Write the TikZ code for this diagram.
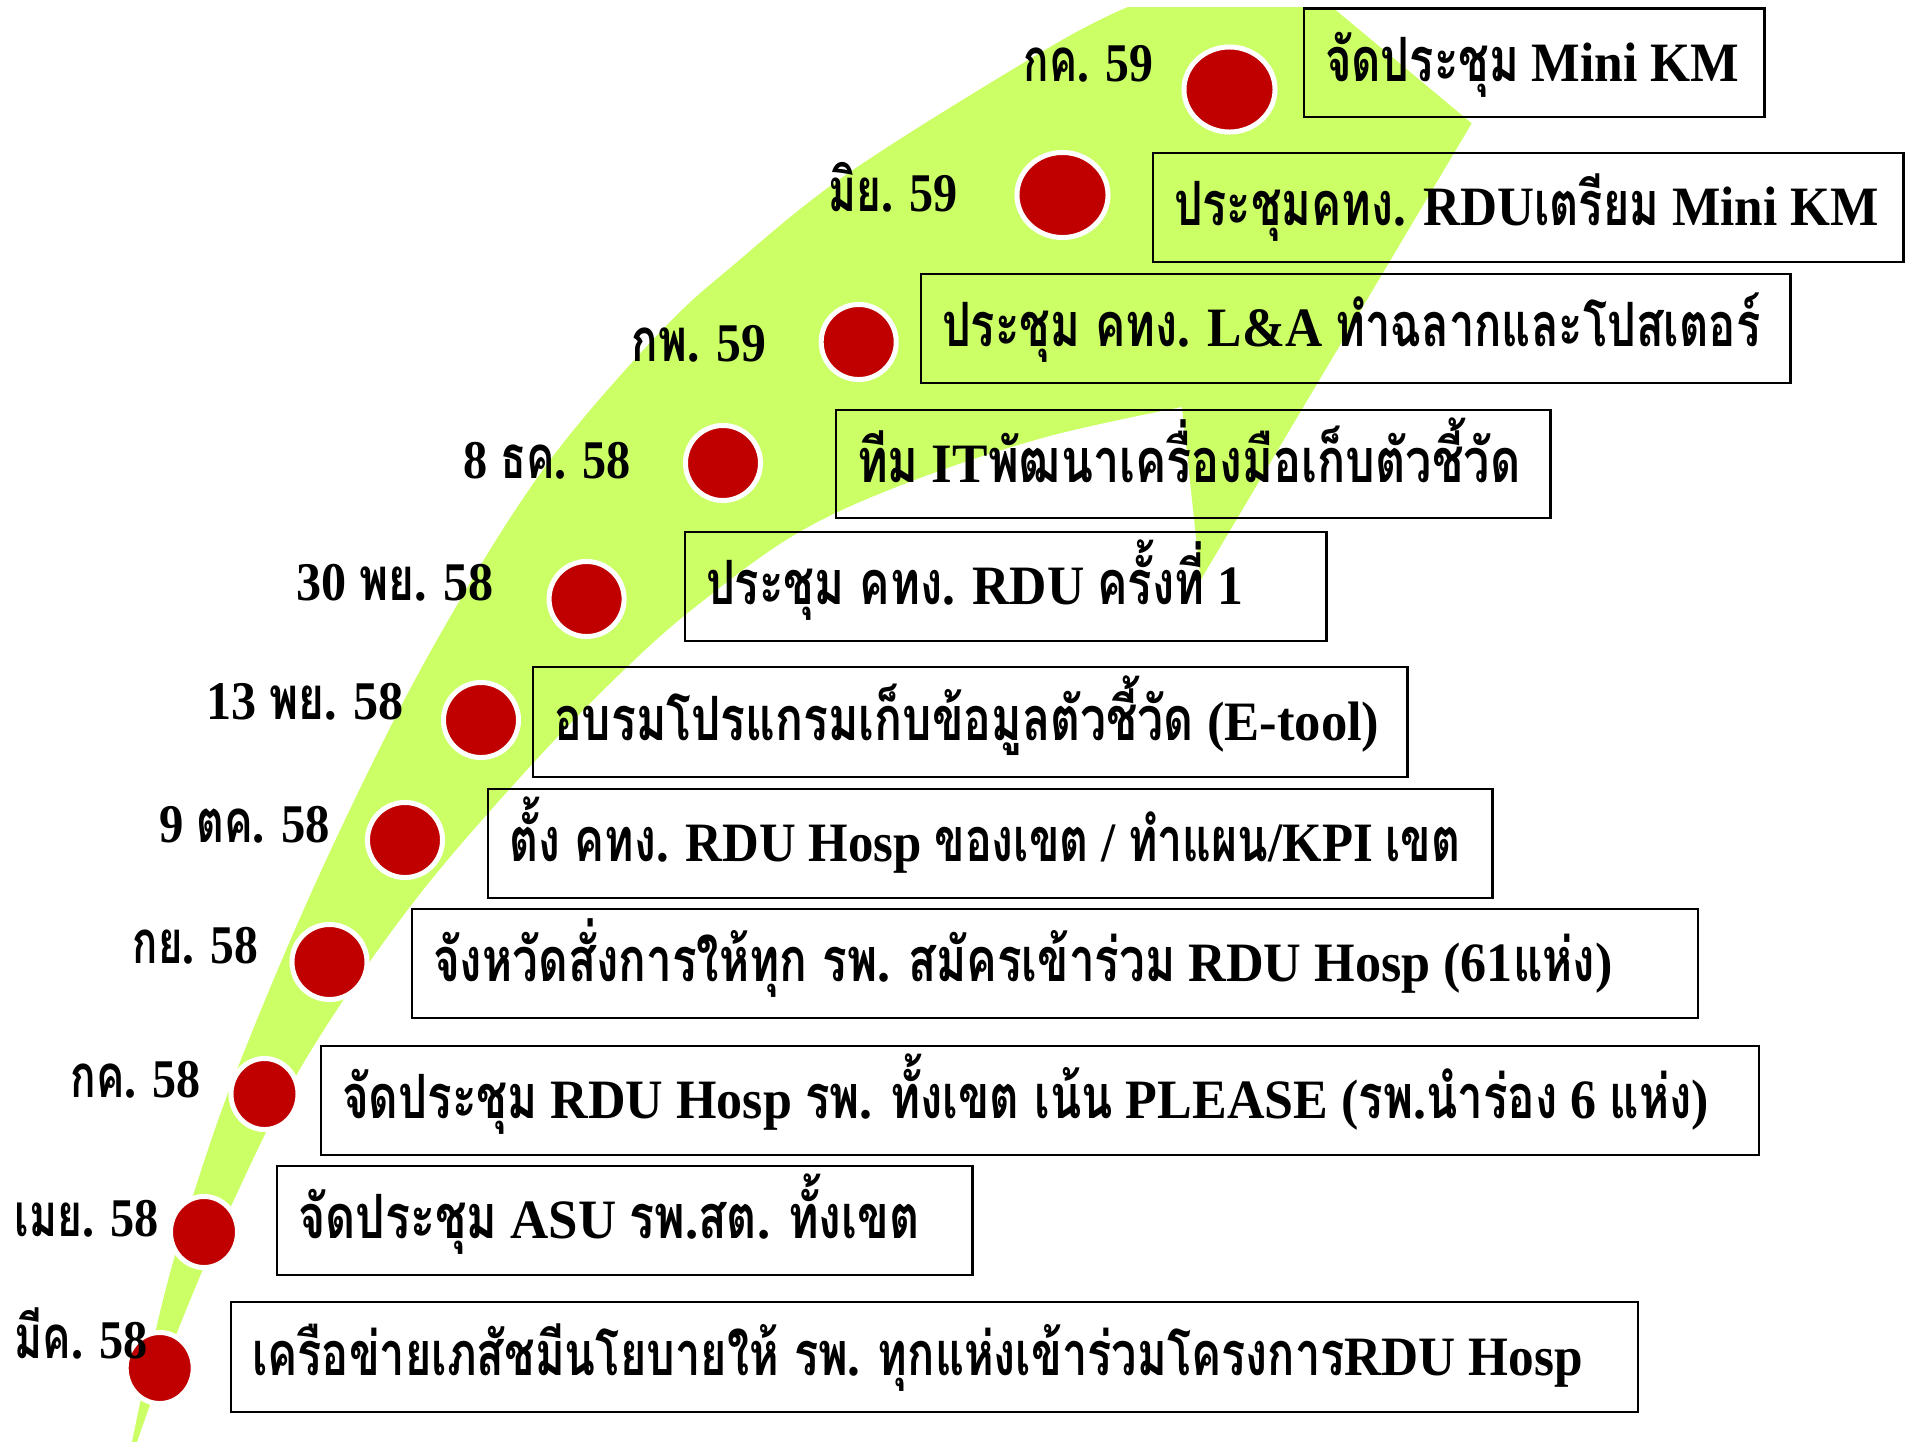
\documentclass[tikz,border=0pt]{standalone}
\usepackage{fontspec}
\usepackage{graphicx}
\usetikzlibrary{shapes.geometric}
\setmainfont{Liberation Serif}
\newfontfamily\thaifont[Script=Thai,Scale=1.1,FakeStretch=0.8]{Loma}
\newcommand\T[1]{{\thaifont #1}}
\newsavebox\fitbox
\newcommand\fitw[2]{\sbox\fitbox{#2}\edef\fitscale{\fpeval{#1*0.2845275591/\the\wd\fitbox}}\scalebox{\fitscale}[1]{\usebox\fitbox}}
\definecolor{lime}{HTML}{CCFF66}
\definecolor{dotred}{HTML}{C00000}
\tikzset{
  evbox/.style={draw=black, line width=0.7pt, rectangle, inner sep=0pt, outer sep=0pt, anchor=north west},
  evtxt/.style={inner sep=0pt, outer sep=0pt, anchor=base west, font=\fontsize{15.8}{19}\selectfont\bfseries},
  datetxt/.style={inner sep=0pt, outer sep=0pt, anchor=base east, font=\fontsize{15.5}{18}\selectfont\bfseries},
  dot/.style={ellipse, fill=dotred, draw=white, line width=0.05cm, inner sep=0pt, outer sep=0pt},
}
\begin{document}
\begin{tikzpicture}[x=0.01cm, y=-0.01cm]
\useasboundingbox (0,0) rectangle (1908,1442);
% green curved arrow
\begin{scope}
\clip (0,7) rectangle (1908,1442);
\fill[lime] (1186,-23) -- plot[smooth, tension=0.6] coordinates {(1128,7) (1050,47) (850,172) (730,268) (667,325) (581,421) (522,500) (460,600) (394,720) (312,891) (240,1062) (198,1180) (163,1300) (132,1442) (128,1470)}
  -- (140,1470) -- plot[smooth, tension=0.6] coordinates {(137,1442) (176,1335) (232,1204) (304,1062) (409,908) (525,772) (627,667) (704,600) (801,531) (912,481) (1046,437) (1182,407)}
  -- (1200.6,580) -- (1471.7,123.3) -- (1296,-23) -- cycle;
\end{scope}
% boxes
\node[evbox, minimum width=4.60cm, minimum height=1.085cm] (b1) at (1304,8.5) {};
\node[evbox, minimum width=7.50cm, minimum height=1.09cm] (b2) at (1153,153) {};
\node[evbox, minimum width=8.69cm, minimum height=1.09cm] (b3) at (921,274) {};
\node[evbox, minimum width=7.14cm, minimum height=1.08cm] (b4) at (836,410) {};
\node[evbox, minimum width=6.41cm, minimum height=1.09cm] (b5) at (685,532) {};
\node[evbox, minimum width=8.74cm, minimum height=1.10cm] (b6) at (533,667) {};
\node[evbox, minimum width=10.04cm, minimum height=1.09cm] (b7) at (488,789) {};
\node[evbox, minimum width=12.85cm, minimum height=1.09cm] (b8) at (412,909) {};
\node[evbox, minimum width=14.37cm, minimum height=1.09cm] (b9) at (321,1046) {};
\node[evbox, minimum width=6.95cm, minimum height=1.09cm] (b10) at (277,1166) {};
\node[evbox, minimum width=14.06cm, minimum height=1.10cm] (b11) at (231,1302) {};
% dots
\node[dot, minimum width=0.91cm, minimum height=0.85cm] (c1) at (1229.5,89.5) {};
\node[dot, minimum width=0.91cm, minimum height=0.85cm] (c2) at (1062.5,195) {};
\node[dot, minimum width=0.75cm, minimum height=0.75cm] (c3) at (858.7,342) {};
\node[dot, minimum width=0.75cm, minimum height=0.75cm] (c4) at (723,463) {};
\node[dot, minimum width=0.75cm, minimum height=0.75cm] (c5) at (586.6,599) {};
\node[dot, minimum width=0.75cm, minimum height=0.75cm] (c6) at (481,720) {};
\node[dot, minimum width=0.75cm, minimum height=0.75cm] (c7) at (405,840) {};
\node[dot, minimum width=0.75cm, minimum height=0.75cm] (c8) at (329.5,962) {};
\node[dot, minimum width=0.67cm, minimum height=0.71cm] (c9) at (264.5,1094) {};
\node[dot, minimum width=0.67cm, minimum height=0.71cm] (c10) at (204,1232) {};
\node[dot, minimum width=0.67cm, minimum height=0.71cm] (c11) at (159.7,1368) {};
% box texts
\node[evtxt] (t1) at ([xshift=0.21cm,yshift=-0.1825cm]b1.west) {\fitw{414}{\T{จัดประชุม} Mini KM}};
\node[evtxt] (t2) at ([xshift=0.21cm,yshift=-0.1825cm]b2.west) {\fitw{704}{\T{ประชุมคทง}. RDU\T{เตรียม} Mini KM}};
\node[evtxt] (t3) at ([xshift=0.21cm,yshift=-0.1825cm]b3.west) {\fitw{818}{\T{ประชุม คทง}. L\&A \T{ทำฉลากและโปสเตอร์}}};
\node[evtxt] (t4) at ([xshift=0.21cm,yshift=-0.1825cm]b4.west) {\fitw{663}{\T{ทีม} IT\T{พัฒนาเครื่องมือเก็บตัวชี้วัด}}};
\node[evtxt] (t5) at ([xshift=0.21cm,yshift=-0.1825cm]b5.west) {\fitw{537}{\T{ประชุม คทง}. RDU \T{ครั้งที่} 1}};
\node[evtxt] (t6) at ([xshift=0.21cm,yshift=-0.1825cm]b6.west) {\fitw{825}{\T{อบรมโปรแกรมเก็บข้อมูลตัวชี้วัด} (E-tool)}};
\node[evtxt] (t7) at ([xshift=0.21cm,yshift=-0.1825cm]b7.west) {\fitw{951}{\T{ตั้ง คทง}. RDU Hosp \T{ของเขต} / \T{ทำแผน}/KPI \T{เขต}}};
\node[evtxt] (t8) at ([xshift=0.21cm,yshift=-0.1825cm]b8.west) {\fitw{1179}{\T{จังหวัดสั่งการให้ทุก รพ}. \T{สมัครเข้าร่วม} RDU Hosp (61\T{แห่ง})}};
\node[evtxt] (t9) at ([xshift=0.21cm,yshift=-0.1825cm]b9.west) {\fitw{1366}{\T{จัดประชุม} RDU Hosp \T{รพ}. \T{ทั้งเขต เน้น} PLEASE (\T{รพ}.\T{นำร่อง} 6 \T{แห่ง})}};
\node[evtxt] (t10) at ([xshift=0.21cm,yshift=-0.1825cm]b10.west) {\fitw{621}{\T{จัดประชุม} ASU \T{รพ}.\T{สต}. \T{ทั้งเขต}}};
\node[evtxt] (t11) at ([xshift=0.21cm,yshift=-0.1825cm]b11.west) {\fitw{1330}{\T{เครือข่ายเภสัชมีนโยบายให้ รพ}. \T{ทุกแห่งเข้าร่วมโครงการ}RDU Hosp}};
% dates
\node[datetxt] (d1) at (1153,81) {\fitw{129}{\T{กค}. 59}};
\node[datetxt] (d2) at (958,211) {\fitw{129}{\T{มิย}. 59}};
\node[datetxt] (d3) at (766,361.5) {\fitw{134}{\T{กพ}. 59}};
\node[datetxt] (d4) at (631,478) {\fitw{167}{8 \T{ธค}. 58}};
\node[datetxt] (d5) at (494,600) {\fitw{197}{30 \T{พย}. 58}};
\node[datetxt] (d6) at (404,719) {\fitw{197}{13 \T{พย}. 58}};
\node[datetxt] (d7) at (330,842) {\fitw{170}{9 \T{ตค}. 58}};
\node[datetxt] (d8) at (258,963) {\fitw{125}{\T{กย}. 58}};
\node[datetxt] (d9) at (201,1097) {\fitw{130}{\T{กค}. 58}};
\node[datetxt] (d10) at (159,1236) {\fitw{144}{\T{เมย}. 58}};
\node[datetxt] (d11) at (148,1358) {\fitw{133}{\T{มีค}. 58}};
\end{tikzpicture}
\end{document}
